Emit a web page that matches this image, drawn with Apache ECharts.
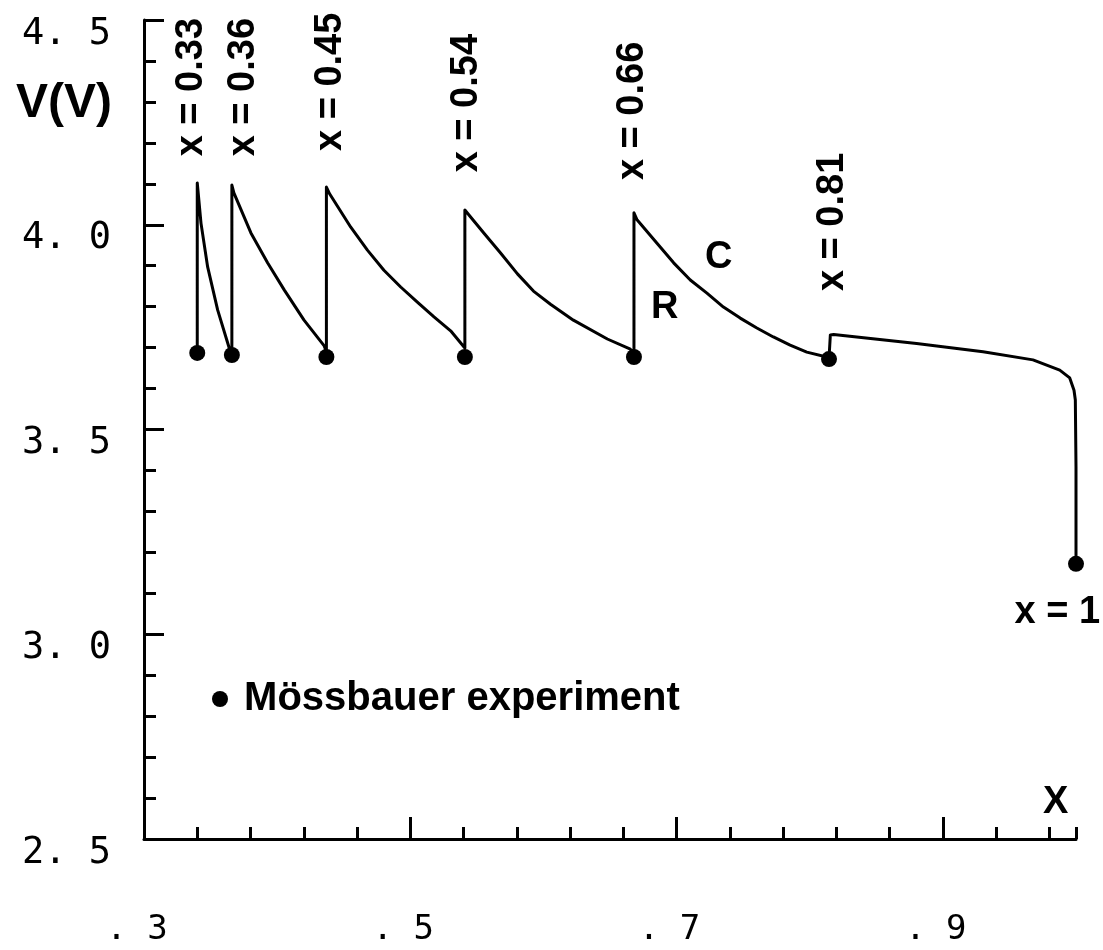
<!DOCTYPE html>
<html>
<head>
<meta charset="utf-8">
<script src="https://cdn.jsdelivr.net/npm/echarts@6/dist/echarts.min.js"></script>
<style>
  html, body { margin: 0; padding: 0; background: #fff; }
  #chart { width: 1103px; height: 950px; }
</style>
</head>
<body>
<div id="chart"></div>
<script>
// ---- data ----
const curveX = [
  0.340, 0.340, 0.3403, 0.3428, 0.3478, 0.3553, 0.364, 0.366,
  0.366, 0.3675, 0.3803, 0.3928, 0.4053, 0.4202, 0.4352, 0.437,
  0.437, 0.4395, 0.4553, 0.4678, 0.4802, 0.4928, 0.5053, 0.5178, 0.5303, 0.541,
  0.541, 0.5453, 0.5552, 0.5678, 0.5805, 0.5925, 0.6053, 0.6225, 0.648, 0.6653, 0.668,
  0.668, 0.6703, 0.6853, 0.6978, 0.7103, 0.7228, 0.7352, 0.7478, 0.7603, 0.7727, 0.7853, 0.7978, 0.8128, 0.8145,
  0.8155, 0.8155, 0.818, 0.8803, 0.9302, 0.9677, 0.9878, 0.9953, 0.9985, 0.9995, 1.0, 1.0
];
const curveV = [
  3.687, 4.102, 4.092, 4.004, 3.897, 3.792, 3.699, 3.685,
  4.097, 4.078, 3.980, 3.907, 3.841, 3.767, 3.705, 3.690,
  4.092, 4.075, 3.994, 3.938, 3.889, 3.848, 3.811, 3.775, 3.741, 3.699,
  4.036, 4.019, 3.980, 3.931, 3.880, 3.838, 3.806, 3.767, 3.721, 3.696, 3.688,
  4.029, 4.012, 3.955, 3.907, 3.865, 3.833, 3.799, 3.772, 3.748, 3.726, 3.706, 3.689, 3.677, 3.674,
  3.676, 3.731, 3.732, 3.710, 3.690, 3.670, 3.645, 3.626, 3.596, 3.572, 3.409, 3.172
];
const dotX = [0.340, 0.366, 0.437, 0.541, 0.668, 0.8145, 1.0];
const dotV = [3.687, 3.682, 3.677, 3.677, 3.677, 3.672, 3.172];
const seriesName = 'Mössbauer experiment';

const vertText = ['x = 0.33', 'x = 0.36', 'x = 0.45', 'x = 0.54', 'x = 0.66', 'x = 0.81'];
const vertX = [0.336, 0.3746, 0.4399, 0.5426, 0.6668, 0.8168];
const vertV = [4.336, 4.336, 4.349, 4.297, 4.278, 4.007];

const horizText = ['x = 1', 'R', 'C'];
const horizX = [0.986, 0.6911, 0.7316];
const horizV = [3.052, 3.798, 3.920];

const xMajorTicks = [0.3, 0.5, 0.7, 0.9];
const xTickLabels = ['. 3', '. 5', '. 7', '. 9'];
const xMinorTicks = [0.34, 0.38, 0.42, 0.46, 0.54, 0.58, 0.62, 0.66, 0.74, 0.78, 0.82, 0.86, 0.94, 0.98, 1.0];
const yTickValues = [2.5, 3.0, 3.5, 4.0, 4.5];
const yTickLabels = ['2. 5', '3. 0', '3. 5', '4. 0', '4. 5'];
const xName = 'X';
const yName = 'V(V)';

// ---- chart ----
const BOLD = "'Liberation Sans', Arial, sans-serif";
const MONO = "'DejaVu Sans Mono', monospace";
const findLabel = (vals, labels, v) => {
  const i = vals.findIndex(t => Math.abs(t - v) < 1e-6);
  return i >= 0 ? labels[i] : '';
};

const chart = echarts.init(document.getElementById('chart'), null, { renderer: 'canvas' });
chart.setOption({
  animation: false,
  backgroundColor: '#ffffff',
  grid: { left: 144, right: 27, top: 20, bottom: 111, containLabel: false, outerBoundsMode: 'none' },
  legend: {
    data: [seriesName],
    left: 212, top: 679, padding: 0,
    icon: 'circle', itemWidth: 16, itemHeight: 16,
    selectedMode: false,
    formatter: ' {name}',
    itemStyle: { color: '#000', opacity: 1 },
    textStyle: { fontFamily: BOLD, fontWeight: 'bold', fontSize: 40, color: '#000' }
  },
  xAxis: [
    {
      type: 'value', min: 0.3, max: 1.0,
      position: 'bottom',
      name: xName, nameLocation: 'end', nameGap: -33, nameMoveOverlap: false,
      nameTextStyle: { fontFamily: BOLD, fontWeight: 'bold', fontSize: 38, color: '#000',
        align: 'left', verticalAlign: 'bottom', lineHeight: 72 },
      axisLine: { show: true, onZero: false, lineStyle: { color: '#000', width: 3 } },
      axisTick: { show: true, inside: true, length: 22, customValues: xMajorTicks,
        lineStyle: { color: '#000', width: 3 } },
      axisLabel: { show: true, customValues: xMajorTicks, margin: 74,
        formatter: v => findLabel(xMajorTicks, xTickLabels, v),
        fontFamily: MONO, fontSize: 34, color: '#000', padding: [0, 14, 0, 0] },
      splitLine: { show: false }
    },
    {
      type: 'value', min: 0.3, max: 1.0,
      position: 'bottom',
      axisLine: { show: false, onZero: false },
      axisTick: { show: true, inside: true, length: 12, customValues: xMinorTicks,
        lineStyle: { color: '#000', width: 3 } },
      axisLabel: { show: false },
      splitLine: { show: false }
    }
  ],
  yAxis: {
    type: 'value', min: 2.5, max: 4.5, interval: 0.5,
    name: yName, nameLocation: 'end', nameGap: -84, nameMoveOverlap: false,
    nameTextStyle: { fontFamily: BOLD, fontWeight: 'bold', fontSize: 48, color: '#000',
      align: 'right', verticalAlign: 'middle', padding: [0, 32, 0, 0] },
    axisLine: { show: true, onZero: false, lineStyle: { color: '#000', width: 3 } },
    axisTick: { show: true, inside: true, length: 20, lineStyle: { color: '#000', width: 3 } },
    minorTick: { show: true, splitNumber: 5, length: 12, lineStyle: { color: '#000', width: 3 } },
    axisLabel: { show: true, margin: 33,
      formatter: v => findLabel(yTickValues, yTickLabels, v),
      fontFamily: MONO, fontSize: 37, color: '#000', verticalAlign: 'top', lineHeight: 28 },
    splitLine: { show: false },
    minorSplitLine: { show: false }
  },
  series: [
    {
      type: 'line', xAxisIndex: 0,
      data: curveX.map((x, i) => [x, curveV[i]]),
      showSymbol: false, symbol: 'none',
      lineStyle: { color: '#000', width: 3, join: 'round' },
      clip: false, silent: true, z: 2
    },
    {
      name: seriesName, type: 'scatter', xAxisIndex: 0,
      data: dotX.map((x, i) => [x, dotV[i]]),
      symbol: 'circle', symbolSize: 16,
      itemStyle: { color: '#000', opacity: 1 }, clip: false, z: 3
    },
    {
      type: 'scatter', xAxisIndex: 0,
      data: vertText.map((t, i) => ({ name: t, value: [vertX[i], vertV[i]] })),
      symbolSize: 0, itemStyle: { color: '#000', opacity: 1 }, clip: false, silent: true,
      label: { show: true, position: 'inside', rotate: 90, formatter: '{b}',
        fontFamily: BOLD, fontWeight: 'bold', fontSize: 38, color: '#000', opacity: 1 }
    },
    {
      type: 'scatter', xAxisIndex: 0,
      data: horizText.map((t, i) => ({ name: t, value: [horizX[i], horizV[i]] })),
      symbolSize: 0, itemStyle: { color: '#000', opacity: 1 }, clip: false, silent: true,
      label: { show: true, position: 'inside', formatter: '{b}',
        fontFamily: BOLD, fontWeight: 'bold', fontSize: 38, color: '#000', opacity: 1 }
    }
  ]
});
</script>
</body>
</html>
